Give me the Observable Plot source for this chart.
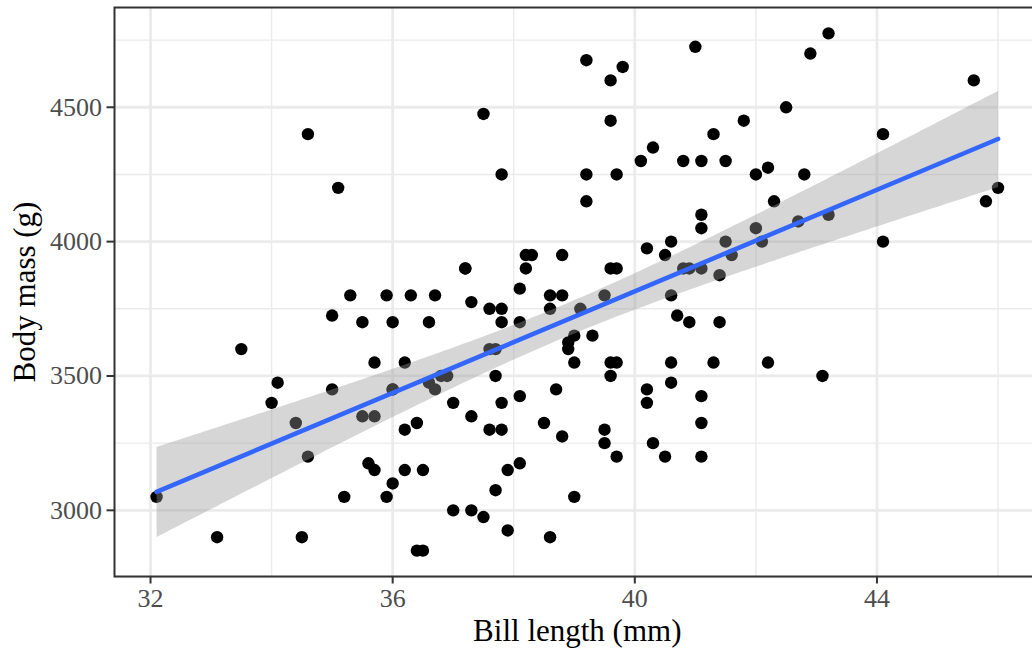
<!DOCTYPE html>
<html>
<head>
<meta charset="utf-8">
<script src="https://cdn.jsdelivr.net/npm/d3@7"></script>
<script src="https://cdn.jsdelivr.net/npm/@observablehq/plot@0.6"></script>
<style>
  html, body { margin: 0; padding: 0; background: #ffffff; }
  #chart svg { display: block; }
</style>
</head>
<body>
<div id="chart"></div>
<script>
// Adelie penguins: bill length (mm) and body mass (g)
const billLength = [
  39.1, 39.5, 40.3, 36.7, 39.3, 38.9, 39.2, 34.1, 42.0, 37.8, 37.8, 41.1, 38.6, 34.6, 36.6, 38.7, 42.5, 34.4, 46.0,
  37.8, 37.7, 35.9, 38.2, 38.8, 35.3, 40.6, 40.5, 37.9, 40.5,
  39.5, 37.2, 39.5, 40.9, 36.4, 39.2, 38.8, 42.2, 37.6, 39.8, 36.5, 40.8, 36.0, 44.1, 37.0, 39.6, 41.1, 37.5, 36.0, 42.3,
  39.6, 40.1, 35.0, 42.0, 34.5, 41.4, 39.0, 40.6, 36.5, 37.6, 35.7, 41.3, 37.6, 41.1, 36.4, 41.6, 35.5, 41.1,
  35.9, 41.8, 33.5, 39.7, 39.6, 45.8, 35.5, 42.8, 40.9, 37.2, 36.2, 42.1, 34.6, 42.9, 36.7, 35.1,
  37.3, 41.3, 36.3, 36.9, 38.3, 38.9, 35.7, 41.1, 34.0, 39.6, 36.2, 40.8, 38.1, 40.3, 33.1, 43.2,
  35.0, 41.0, 37.7, 37.8, 37.9, 39.7, 38.6, 38.2, 38.1, 43.2, 38.1, 45.6, 39.7, 42.2, 39.6, 42.7,
  38.6, 37.3, 35.7, 41.1, 36.2, 37.7, 40.2, 41.4, 35.2, 40.6, 38.8, 41.5, 39.0, 44.1, 38.5, 43.1,
  36.8, 37.5, 38.1, 41.1, 35.6, 40.2, 37.0, 39.7, 40.2, 40.6, 32.1, 40.7, 37.3, 39.0, 39.2, 36.6, 36.0, 37.8, 36.0, 41.5
];
const bodyMass = [
  3750, 3800, 3250, 3450, 3650, 3625, 4675, 3475, 4250, 3300, 3700, 3200, 3800, 4400, 3700, 3450, 4500, 3325, 4200,
  3400, 3600, 3800, 3950, 3800, 3800, 3550, 3200, 3150, 3950,
  3250, 3900, 3300, 3900, 3325, 4150, 3950, 3550, 3300, 4650, 3150, 3900, 3100, 4400, 3000, 4600, 3425, 2975, 3450, 4150,
  3500, 4300, 3450, 4050, 2900, 3700, 3550, 3800, 2850, 3750, 3150, 4400, 3600, 4050, 2850, 3950, 3350, 4100,
  3050, 4450, 3600, 3900, 3550, 4150, 3700, 4250, 3700, 3900, 3550, 4000, 3200, 4700, 3800, 4200,
  3350, 3550, 3800, 3500, 3950, 3600, 3550, 4300, 3400, 4450, 3300, 4300, 3700, 4350, 2900, 4100,
  3725, 4725, 3075, 4250, 2925, 3550, 3750, 3900, 3175, 4775, 3825, 4600, 3200, 4275, 3900, 4075,
  2900, 3775, 3350, 3325, 3150, 3500, 3450, 3875, 3050, 4000, 3275, 4300, 3050, 4000, 3325, 3500,
  3500, 4475, 3425, 3900, 3175, 3975, 3400, 4250, 3400, 3475, 3050, 3725, 3000, 3650, 4250, 3475, 3450, 3750, 3700, 4000
];

const xMajor = [32, 36, 40, 44];
const xMinor = [34, 38, 42, 46];
const yMajor = [3000, 3500, 4000, 4500];
const yMinor = [2750, 3250, 3750, 4250, 4750];
const xTitle = "Bill length (mm)";
const yTitle = "Body mass (g)";

const data = billLength.map((b, i) => ({bill: b, mass: bodyMass[i]}));

// ggplot-like 5% expansion
const xExt = d3.extent(billLength), yExt = d3.extent(bodyMass);
const xPad = (xExt[1] - xExt[0]) * 0.05, yPad = (yExt[1] - yExt[0]) * 0.05;

const font = "'Liberation Serif', 'Times New Roman', serif";

const chart = Plot.plot({
  width: 1032,
  height: 651,
  marginLeft: 114,
  marginRight: -7.6,
  marginTop: 7,
  marginBottom: 75,
  style: {fontFamily: font, background: "#ffffff"},
  x: {domain: [xExt[0] - xPad, xExt[1] + xPad]},
  y: {domain: [yExt[0] - yPad, yExt[1] + yPad]},
  marks: [
    Plot.ruleX(xMinor, {stroke: "#EBEBEB", strokeWidth: 1.4}),
    Plot.ruleY(yMinor, {stroke: "#EBEBEB", strokeWidth: 1.4}),
    Plot.ruleX(xMajor, {stroke: "#EBEBEB", strokeWidth: 2.8}),
    Plot.ruleY(yMajor, {stroke: "#EBEBEB", strokeWidth: 2.8}),
    Plot.dot(data, {x: "bill", y: "mass", r: 6.2, fill: "#000000", stroke: "none"}),
    Plot.linearRegressionY(data, {x: "bill", y: "mass", stroke: "#3366FF", strokeWidth: 4.6, fill: "#999999", fillOpacity: 0.4, ci: 0.95}),
    Plot.frame({stroke: "#333333", strokeWidth: 2}),
    Plot.axisX(xMajor, {tickSize: 7.5, tickPadding: 5, stroke: "#333333", strokeWidth: 2, fill: "#4D4D4D", fontSize: 26, label: null, tickFormat: d => String(d)}),
    Plot.axisY(yMajor, {tickSize: 7.5, tickPadding: 5, stroke: "#333333", strokeWidth: 2, fill: "#4D4D4D", fontSize: 26, label: null, tickFormat: d => String(d)}),
    Plot.text([xTitle], {frameAnchor: "bottom", dy: 55, fontSize: 31, fill: "#000000", textAnchor: "middle", lineAnchor: "middle"}),
    Plot.text([yTitle], {frameAnchor: "left", dx: -89, rotate: -90, fontSize: 31, fill: "#000000", textAnchor: "middle", lineAnchor: "middle"})
  ]
});

document.getElementById("chart").appendChild(chart);
</script>
</body>
</html>
